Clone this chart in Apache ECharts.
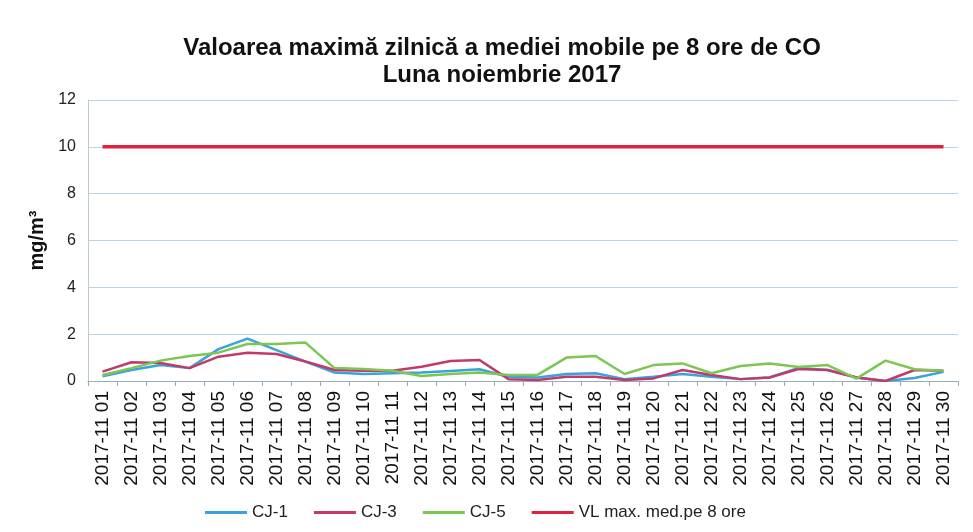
<!DOCTYPE html>
<html><head><meta charset="utf-8">
<script src="https://cdn.jsdelivr.net/npm/echarts@6/dist/echarts.min.js"></script>
<style>html,body{margin:0;padding:0;background:#fff}#c{width:973px;height:532px}</style>
</head><body><div id="c"></div>
<script>
const categories = ["2017-11 01","2017-11 02","2017-11 03","2017-11 04","2017-11 05","2017-11 06","2017-11 07","2017-11 08","2017-11 09","2017-11 10","2017-11 11","2017-11 12","2017-11 13","2017-11 14","2017-11 15","2017-11 16","2017-11 17","2017-11 18","2017-11 19","2017-11 20","2017-11 21","2017-11 22","2017-11 23","2017-11 24","2017-11 25","2017-11 26","2017-11 27","2017-11 28","2017-11 29","2017-11 30"];
const cj1 = [0.2,0.47,0.68,0.55,1.36,1.81,1.32,0.83,0.36,0.3,0.33,0.36,0.43,0.5,0.18,0.15,0.3,0.33,0.08,0.18,0.3,0.18,0.08,0.15,0.56,0.47,0.15,0.0,0.13,0.39];
const cj3 = [0.4,0.8,0.77,0.55,1.04,1.21,1.15,0.83,0.47,0.44,0.44,0.61,0.85,0.9,0.08,0.04,0.18,0.18,0.04,0.11,0.47,0.26,0.08,0.15,0.51,0.47,0.15,0.0,0.47,0.44];
const cj5 = [0.26,0.55,0.87,1.07,1.21,1.58,1.58,1.64,0.55,0.51,0.44,0.21,0.3,0.36,0.26,0.26,1.0,1.07,0.3,0.68,0.75,0.33,0.64,0.75,0.6,0.68,0.1,0.87,0.5,0.44];
const vl = categories.map(() => 10);
const yTicks = [0,2,4,6,8,10,12];

const chart = echarts.init(document.getElementById('c'));
chart.setOption({
  animation: false,
  backgroundColor: '#fff',
  title: {
    text: 'Valoarea maximă zilnică a mediei mobile pe 8 ore de CO\nLuna noiembrie 2017',
    left: 497, top: 30, textAlign: 'center',
    textStyle: {fontFamily: 'Liberation Sans, Arial', fontSize: 24, fontWeight: 'bold', color: '#111', lineHeight: 27}
  },
  legend: {
    left: 200, top: 499, itemWidth: 42, itemHeight: 3, itemGap: 26,
    textStyle: {fontFamily: 'Liberation Sans, Arial', fontSize: 17, color: '#222', padding: [0, 0, 0, 0]},
    data: [
      {name: 'CJ-1', icon: 'rect', itemStyle: {color: '#38a3dc'}},
      {name: 'CJ-3', icon: 'rect', itemStyle: {color: '#c23a6c'}},
      {name: 'CJ-5', icon: 'rect', itemStyle: {color: '#7cc653'}},
      {name: 'VL max. med.pe 8 ore', icon: 'rect', itemStyle: {color: '#e2203f'}}
    ]
  },
  grid: {left: 88, right: 15, top: 100, bottom: 151},
  xAxis: {
    type: 'category', data: categories, boundaryGap: true,
    axisLine: {lineStyle: {color: '#9ab', width: 1}},
    axisTick: {show: true, alignWithLabel: false, lineStyle: {color: '#9ab'}},
    axisLabel: {rotate: 90, interval: 0, fontFamily: 'Liberation Sans, Arial', fontSize: 19, color: '#111', margin: 10}
  },
  yAxis: {
    type: 'value', min: 0, max: 12, interval: 2,
    name: 'mg/m³', nameLocation: 'middle', nameGap: 40, nameRotate: 90,
    nameTextStyle: {fontFamily: 'Liberation Sans, Arial', fontSize: 20, fontWeight: 'bold', color: '#111'},
    axisLine: {show: true, lineStyle: {color: '#b8c8d8'}},
    axisTick: {show: false},
    axisLabel: {fontFamily: 'Liberation Sans, Arial', fontSize: 16, color: '#222', margin: 12, formatter: v => yTicks.includes(v) ? String(v) : ''},
    splitLine: {lineStyle: {color: '#b9d3ee', width: 1}}
  },
  series: [
    {name: 'CJ-1', type: 'line', data: cj1, symbol: 'none', lineStyle: {color: '#38a3dc', width: 2.5}, itemStyle: {color: '#38a3dc'}},
    {name: 'CJ-3', type: 'line', data: cj3, symbol: 'none', lineStyle: {color: '#c23a6c', width: 2.5}, itemStyle: {color: '#c23a6c'}},
    {name: 'CJ-5', type: 'line', data: cj5, symbol: 'none', lineStyle: {color: '#7cc653', width: 2.5}, itemStyle: {color: '#7cc653'}},
    {name: 'VL max. med.pe 8 ore', type: 'line', data: vl, symbol: 'none', lineStyle: {color: '#e2203f', width: 3.5}, itemStyle: {color: '#e2203f'}}
  ]
});
</script>
</body></html>
